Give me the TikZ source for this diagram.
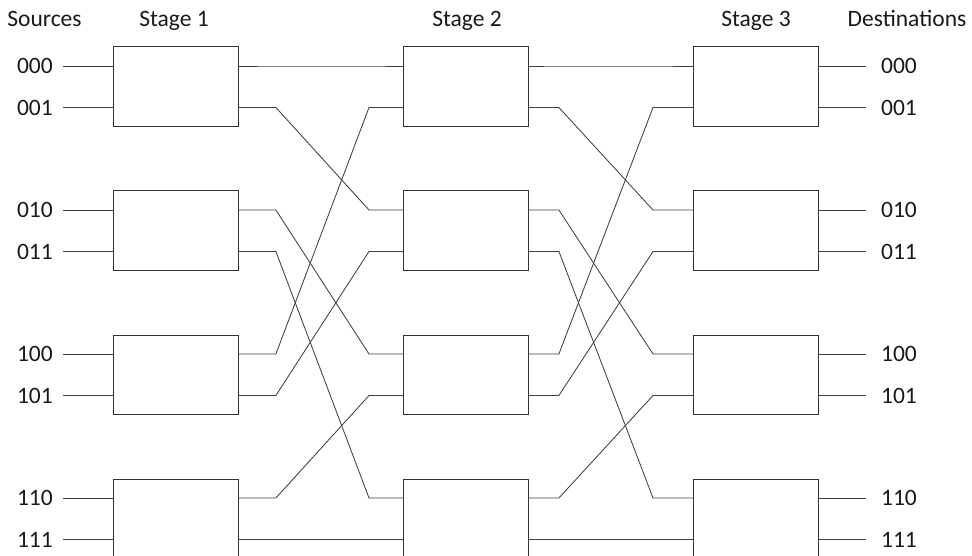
\documentclass[tikz,border=0pt]{standalone}
\usepackage{fontspec}
\setmainfont{Carlito}
\begin{document}
\begin{tikzpicture}[x=1pt,y=-1pt,
  wire/.style={draw=black!75,line width=0.85pt},
  swbox/.style={draw=black!80,line width=0.9pt,minimum width=125pt,minimum height=79.5pt,inner sep=0pt,anchor=north west},
  lbl/.style={font=\fontsize{23.5}{28}\selectfont,inner sep=0pt,text=black!90}]
\useasboundingbox (0,0) rectangle (972,556);
\clip (0,0) rectangle (972,556);
% switch boxes and their ports
\foreach \s/\x in {1/113,2/403,3/693} {
  \foreach \b in {0,1,2,3} {
    \pgfmathsetmacro\yt{46.5+144*\b}
    \pgfmathtruncatemacro\pa{2*\b}
    \pgfmathtruncatemacro\pb{2*\b+1}
    \node[swbox] (s\s b\b) at (\x,\yt) {};
    \coordinate (s\s in\pa) at ([yshift=-19.5pt]s\s b\b.north west);
    \coordinate (s\s in\pb) at ([yshift=-61pt]s\s b\b.north west);
    \coordinate (s\s out\pa) at ([yshift=-19.5pt]s\s b\b.north east);
    \coordinate (s\s out\pb) at ([yshift=-61pt]s\s b\b.north east);
  }
}
% sources and destinations
\foreach \p/\t in {0/000,1/001,2/010,3/011,4/100,5/101,6/110,7/111} {
  \coordinate (src\p) at ([xshift=-50pt]s1in\p);
  \coordinate (dst\p) at ([xshift=47pt]s3out\p);
  \draw[wire] (src\p) -- (s1in\p);
  \draw[wire] (s3out\p) -- (dst\p);
  \node[lbl,anchor=east] (srclbl\p) at ([xshift=-10pt]src\p) {\t};
  \node[lbl,anchor=west] (dstlbl\p) at ([xshift=15pt]dst\p) {\t};
}
% perfect shuffle interconnections
\foreach \p/\q in {0/0,1/2,2/4,3/6,4/1,5/3,6/5,7/7} {
  \draw[wire] (s1out\p) -- ++(37,0) -- ([xshift=-34pt]s2in\q) -- (s2in\q);
  \draw[wire] (s2out\p) -- ++(30,0) -- ([xshift=-40pt]s3in\q) -- (s3in\q);
}
% titles
\node[lbl,anchor=base] (tsrc) at (44.5,26.5) {Sources};
\node[lbl,anchor=base] (tst1) at (174,26.5) {Stage 1};
\node[lbl,anchor=base] (tst2) at (467,26.5) {Stage 2};
\node[lbl,anchor=base] (tst3) at (756,26.5) {Stage 3};
\node[lbl,anchor=base] (tdst) at (907,26.5) {Destinations};
\end{tikzpicture}
\end{document}
